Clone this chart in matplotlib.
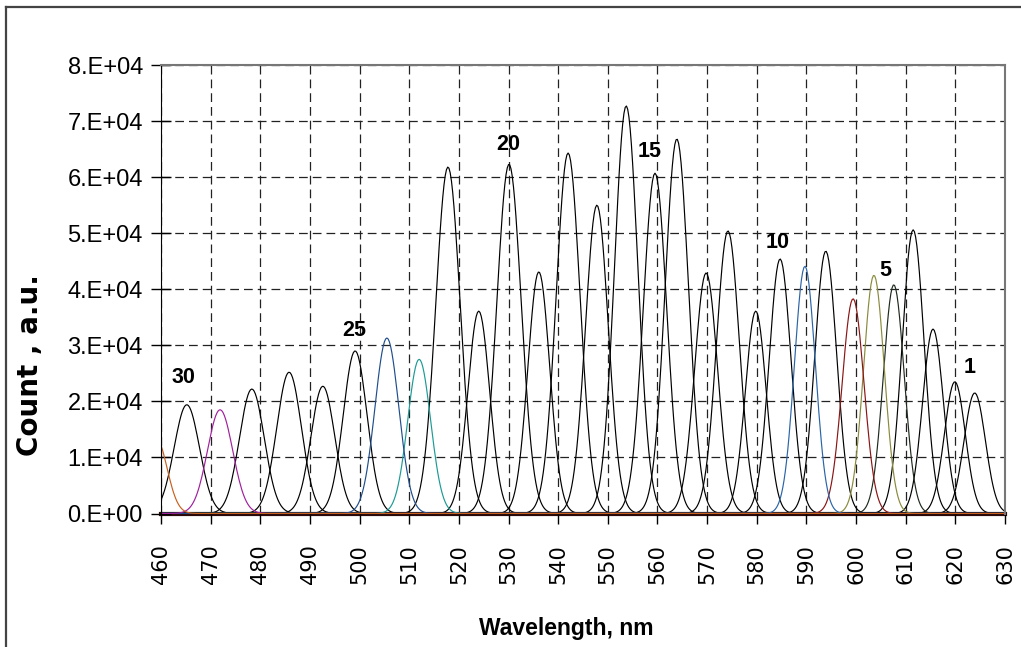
import numpy as np
import matplotlib.pyplot as plt
from matplotlib.lines import Line2D

# Peak centre (nm), peak count and gaussian sigma (nm) for filter channels 1..31
channels = list(range(1, 32))
centers = [623.9, 619.9, 615.5, 611.5, 607.6, 603.6, 599.4, 593.9, 589.7, 584.7,
           579.8, 574.2, 569.8, 563.9, 559.5, 553.7, 547.8, 542.0, 536.1, 530.1,
           524.0, 517.8, 512.0, 505.5, 499.1, 492.6, 485.8, 478.3, 471.9, 465.2,
           459.0]
heights = [21500, 23500, 32900, 50600, 40800, 42500, 38300, 46800, 44100, 45400,
           36100, 50400, 42900, 66800, 60700, 72700, 55000, 64300, 43100, 62300,
           36100, 61800, 27500, 31300, 29000, 22700, 25200, 22200, 18500, 19400,
           13500]
sigma = [2.15, 2.1, 2.1, 2.2, 2.1, 2.1, 2.2, 2.2, 2.1, 2.2,
         2.1, 2.3, 2.3, 2.35, 2.35, 2.35, 2.3, 2.4, 2.2, 2.45,
         2.2, 2.45, 2.3, 2.4, 2.4, 2.4, 2.5, 2.5, 2.55, 2.55,
         2.2]
colors = {5: '#1e2a1e', 6: '#8a8a3c', 7: '#8b1414', 9: '#2a64a8',
          23: '#1c9a96', 24: '#1f4e8e', 29: '#a0209c', 31: '#c8601e'}

# channel numbers written above selected peaks
label_text = ['30', '25', '20', '15', '10', '5', '1']
label_x = [464.6, 498.9, 529.9, 558.5, 584.3, 605.8, 622.9]
label_y = [24200, 32700, 65900, 64500, 48400, 43400, 26100]

xticks = list(range(460, 631, 10))
yticks = [0, 10000, 20000, 30000, 40000, 50000, 60000, 70000, 80000]
ytick_labels = ['0.E+00', '1.E+04', '2.E+04', '3.E+04', '4.E+04',
                '5.E+04', '6.E+04', '7.E+04', '8.E+04']

arial = ['Liberation Sans', 'DejaVu Sans']
wide = ['DejaVu Sans']

fig = plt.figure(figsize=(10.21, 6.47), dpi=100)
ax = fig.add_axes([161 / 1021, 1 - 513.5 / 647, 844 / 1021, 448.5 / 647])

# gaussian line profile for each channel, coloured traces drawn last
wl = np.arange(450, 640.01, 0.25)
order = sorted(channels, key=lambda c: c in colors)
for ch in order:
    i = ch - 1
    y = heights[i] * np.exp(-0.5 * ((wl - centers[i]) / sigma[i]) ** 2)
    ax.plot(wl, y, color=colors.get(ch, 'black'), lw=0.85)

for t, x, y in zip(label_text, label_x, label_y):
    ax.text(x, y, t, ha='center', va='center', fontsize=15.5, fontweight='bold',
            family=arial)

ax.set_xlim(460, 630)
ax.set_ylim(0, 80000)
ax.set_xticks(xticks)
ax.set_xticklabels([str(v) for v in xticks], rotation=90, family=wide, fontsize=15)
ax.set_yticks(yticks)
ax.set_yticklabels(ytick_labels, family=arial, fontsize=17)
ax.tick_params(axis='y', direction='inout', length=14, width=1, pad=6)
ax.tick_params(axis='x', direction='out', length=7, width=1, pad=15)

ax.grid(True, color='#222222', lw=0.9, linestyle=(0, (7, 4)))
for side in ['top', 'right']:
    ax.spines[side].set_color('#777777')
    ax.spines[side].set_linewidth(1.5)
ax.spines['left'].set_color('black')
ax.spines['bottom'].set_color('#2a0a0a')
ax.spines['bottom'].set_linewidth(3)
ax.spines['bottom'].set_zorder(0.5)

fig.text(30 / 1021, 1 - 365 / 647, 'Count , a.u.', rotation=90, ha='center',
         va='center', fontsize=20, fontweight='bold', family=wide)
fig.text(566 / 1021, 1 - 635 / 647, 'Wavelength, nm', ha='center', va='baseline',
         fontsize=16.5, fontweight='bold', family=arial)

# chart area border
fig.add_artist(Line2D([6 / 1021, 6 / 1021], [0, 1 - 7 / 647], color='#444444', lw=1.6))
fig.add_artist(Line2D([6 / 1021, 1], [1 - 7 / 647, 1 - 7 / 647], color='#444444', lw=1.6))

fig.savefig('out.png', dpi=100)
